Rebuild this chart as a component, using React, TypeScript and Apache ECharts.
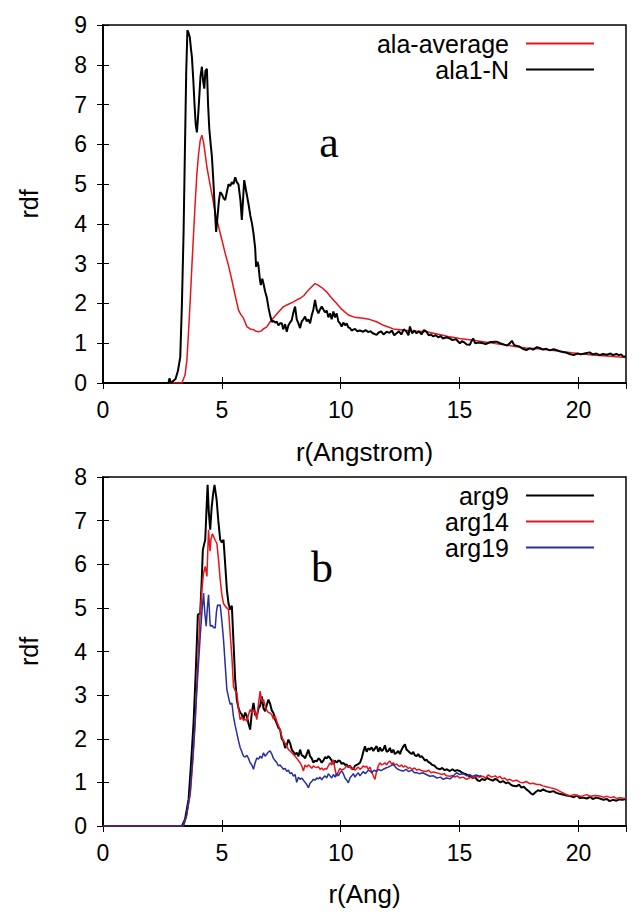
import React, { useEffect, useRef } from "react";
import * as echarts from "echarts";

// ---------- data (r in Angstrom, rdf value) ----------
const alaAverage: number[][] = [
  [0, 0], [3.32, 0], [3.45, 0.2], [3.53, 0.58], [3.6, 1.3], [3.67, 2.09], [3.74, 2.95], [3.81, 3.76], [3.88, 4.55],
  [3.95, 5.27], [4.02, 5.75], [4.09, 6.1], [4.16, 6.23], [4.23, 6.05], [4.3, 5.75], [4.37, 5.43], [4.5, 5.0],
  [4.65, 4.52], [4.75, 4.2], [4.86, 3.93], [5.0, 3.6], [5.14, 3.26], [5.28, 2.95], [5.42, 2.59], [5.56, 2.2],
  [5.7, 1.83], [5.8, 1.72], [5.91, 1.63], [6.05, 1.42], [6.19, 1.36], [6.33, 1.34], [6.44, 1.3], [6.54, 1.29],
  [6.66, 1.31], [6.75, 1.36], [6.89, 1.41], [7.03, 1.54], [7.2, 1.66], [7.4, 1.8], [7.59, 1.92], [7.8, 1.98],
  [8.01, 2.04], [8.15, 2.09], [8.3, 2.13], [8.45, 2.2], [8.57, 2.29], [8.75, 2.4], [8.92, 2.5], [9.05, 2.46],
  [9.2, 2.4], [9.41, 2.29], [9.6, 2.15], [9.83, 2.0], [10.05, 1.85], [10.32, 1.71], [10.6, 1.65], [10.95, 1.63],
  [11.2, 1.6], [11.51, 1.54], [11.8, 1.45], [12.21, 1.36], [12.6, 1.33], [13.0, 1.31], [13.3, 1.3], [13.61, 1.29],
  [14.0, 1.24], [14.3, 1.2], [14.59, 1.16], [15.0, 1.12], [15.5, 1.08], [15.99, 1.04], [16.5, 0.99], [17.0, 0.95],
  [17.39, 0.91], [17.8, 0.88], [18.3, 0.86], [18.79, 0.83], [19.3, 0.79], [19.7, 0.76], [20.19, 0.73], [20.7, 0.7],
  [21.2, 0.68], [21.6, 0.66], [22, 0.64],
];

const ala1N: number[][] = [
  [0, 0], [2.75, 0], [2.8, 0.12], [2.85, 0], [2.95, 0.05], [3.05, 0.1], [3.15, 0.3], [3.25, 0.65], [3.32, 2.0],
  [3.39, 3.8], [3.45, 6.0], [3.5, 7.8], [3.55, 8.87], [3.6, 8.8], [3.65, 8.7], [3.7, 8.4], [3.74, 8.2], [3.8, 7.6],
  [3.85, 7.0], [3.9, 6.5], [3.95, 6.3], [4.0, 6.7], [4.05, 7.2], [4.1, 7.7], [4.16, 7.95], [4.21, 7.6], [4.26, 7.4],
  [4.31, 7.85], [4.37, 7.9], [4.42, 7.0], [4.47, 6.4], [4.53, 6.0], [4.58, 5.7], [4.65, 5.0], [4.7, 4.4],
  [4.76, 3.8], [4.82, 4.2], [4.88, 4.6], [4.93, 4.8], [5.0, 4.75], [5.07, 4.65], [5.14, 4.6], [5.21, 4.8],
  [5.28, 5.0], [5.35, 4.95], [5.42, 5.05], [5.49, 5.0], [5.56, 5.17], [5.63, 5.05], [5.7, 4.99], [5.78, 4.6],
  [5.84, 4.1], [5.9, 4.7], [5.94, 5.1], [6.0, 4.9], [6.06, 4.7], [6.12, 4.5], [6.2, 4.2], [6.27, 4.0], [6.33, 3.76],
  [6.4, 3.4], [6.44, 2.92], [6.5, 3.05], [6.54, 2.95], [6.6, 2.6], [6.64, 2.46], [6.7, 2.62], [6.75, 2.5],
  [6.82, 2.3], [6.89, 2.15], [6.96, 1.9], [7.03, 1.7], [7.1, 1.54], [7.17, 1.56], [7.24, 1.52], [7.31, 1.54],
  [7.38, 1.45], [7.45, 1.5], [7.52, 1.5], [7.58, 1.35], [7.66, 1.48], [7.73, 1.29], [7.8, 1.45], [7.87, 1.52],
  [7.94, 1.58], [8.0, 1.75], [8.08, 1.92], [8.15, 1.6], [8.22, 1.5], [8.29, 1.38], [8.36, 1.55], [8.43, 1.6],
  [8.5, 1.67], [8.57, 1.55], [8.64, 1.6], [8.71, 1.5], [8.78, 1.7], [8.85, 1.85], [8.92, 2.09], [8.99, 1.85],
  [9.06, 1.75], [9.13, 1.85], [9.2, 1.92], [9.27, 1.85], [9.34, 1.78], [9.41, 1.82], [9.48, 1.65], [9.55, 1.75],
  [9.62, 1.6], [9.69, 1.8], [9.76, 1.65], [9.83, 1.75], [9.9, 1.55], [9.97, 1.5], [10.04, 1.42], [10.11, 1.52],
  [10.18, 1.45], [10.25, 1.5], [10.32, 1.4], [10.39, 1.38], [10.46, 1.32], [10.53, 1.34], [10.6, 1.36], [10.7, 1.3],
  [10.8, 1.32], [10.95, 1.29], [11.05, 1.33], [11.15, 1.28], [11.25, 1.3], [11.35, 1.25], [11.51, 1.21],
  [11.6, 1.27], [11.7, 1.3], [11.8, 1.22], [11.93, 1.29], [12.05, 1.26], [12.15, 1.32], [12.25, 1.2], [12.35, 1.25],
  [12.45, 1.3], [12.55, 1.22], [12.65, 1.35], [12.77, 1.29], [12.85, 1.2], [12.91, 1.42], [13.0, 1.25], [13.1, 1.32],
  [13.19, 1.25], [13.3, 1.3], [13.4, 1.22], [13.5, 1.33], [13.61, 1.29], [13.7, 1.2], [13.8, 1.22], [13.89, 1.17],
  [14.0, 1.2], [14.1, 1.15], [14.2, 1.18], [14.3, 1.12], [14.45, 1.15], [14.59, 1.12], [14.7, 1.08], [14.85, 1.1],
  [15.01, 1.0], [15.1, 1.05], [15.2, 1.02], [15.3, 0.97], [15.43, 0.96], [15.5, 1.05], [15.57, 1.12], [15.65, 1.0],
  [15.8, 1.02], [15.99, 1.0], [16.1, 0.98], [16.3, 1.03], [16.55, 1.04], [16.7, 1.0], [16.85, 0.97], [17.0, 0.94],
  [17.11, 1.0], [17.2, 1.06], [17.3, 0.95], [17.5, 0.92], [17.65, 0.86], [17.81, 0.83], [17.95, 0.87], [18.1, 0.84],
  [18.25, 0.9], [18.37, 0.88], [18.5, 0.84], [18.65, 0.86], [18.8, 0.82], [18.95, 0.85], [19.07, 0.83], [19.2, 0.8],
  [19.35, 0.78], [19.5, 0.76], [19.63, 0.73], [19.8, 0.7], [19.95, 0.74], [20.1, 0.72], [20.3, 0.75], [20.47, 0.77],
  [20.6, 0.72], [20.75, 0.74], [20.9, 0.7], [21.03, 0.73], [21.2, 0.71], [21.35, 0.74], [21.45, 0.7], [21.59, 0.73],
  [21.7, 0.7], [21.8, 0.72], [21.87, 0.67], [22, 0.66],
];

const arg9: number[][] = [
  [0, 0], [3.32, 0], [3.45, 0.15], [3.6, 0.61], [3.7, 1.4], [3.81, 2.37], [3.9, 3.5], [3.99, 4.84], [4.09, 4.88],
  [4.15, 5.6], [4.2, 6.33], [4.25, 6.45], [4.3, 6.56], [4.35, 7.2], [4.4, 7.82], [4.45, 7.2], [4.51, 6.79],
  [4.57, 7.3], [4.63, 7.6], [4.69, 7.82], [4.78, 7.48], [4.85, 7.0], [4.93, 6.56], [5.0, 6.5], [5.07, 6.56],
  [5.14, 6.0], [5.21, 5.42], [5.28, 5.1], [5.35, 4.96], [5.42, 5.05], [5.49, 4.2], [5.56, 3.36], [5.63, 2.9],
  [5.7, 2.7], [5.77, 2.6], [5.84, 2.56], [5.91, 2.45], [5.98, 2.6], [6.05, 2.52], [6.12, 2.35], [6.19, 2.21],
  [6.26, 2.6], [6.33, 2.82], [6.4, 2.55], [6.47, 2.52], [6.54, 2.7], [6.61, 2.75], [6.68, 2.97], [6.75, 2.7],
  [6.82, 2.63], [6.89, 2.78], [6.96, 2.9], [7.03, 2.8], [7.1, 2.65], [7.17, 2.59], [7.24, 2.44], [7.31, 2.35],
  [7.38, 2.25], [7.45, 2.21], [7.52, 2.0], [7.59, 1.95], [7.66, 1.79], [7.73, 1.85], [7.8, 1.98], [7.87, 1.9],
  [7.94, 1.75], [8.01, 1.7], [8.08, 1.64], [8.15, 1.68], [8.22, 1.6], [8.29, 1.75], [8.36, 1.62], [8.43, 1.6],
  [8.5, 1.55], [8.57, 1.65], [8.64, 1.75], [8.71, 1.6], [8.78, 1.55], [8.85, 1.45], [8.92, 1.5], [8.99, 1.48],
  [9.06, 1.55], [9.13, 1.52], [9.2, 1.45], [9.27, 1.5], [9.34, 1.58], [9.41, 1.55], [9.48, 1.6], [9.55, 1.56],
  [9.62, 1.5], [9.69, 1.42], [9.76, 1.5], [9.83, 1.45], [9.9, 1.5], [9.97, 1.49], [10.04, 1.42], [10.11, 1.45],
  [10.18, 1.4], [10.25, 1.41], [10.32, 1.35], [10.39, 1.38], [10.46, 1.32], [10.53, 1.3], [10.6, 1.38], [10.67, 1.4],
  [10.74, 1.42], [10.81, 1.45], [10.88, 1.55], [10.95, 1.7], [11.02, 1.83], [11.09, 1.7], [11.16, 1.78],
  [11.23, 1.75], [11.3, 1.8], [11.37, 1.72], [11.44, 1.78], [11.51, 1.83], [11.58, 1.7], [11.65, 1.8], [11.72, 1.72],
  [11.79, 1.75], [11.86, 1.85], [11.93, 1.7], [12.0, 1.72], [12.07, 1.79], [12.14, 1.68], [12.21, 1.75],
  [12.28, 1.65], [12.35, 1.68], [12.42, 1.72], [12.49, 1.65], [12.56, 1.75], [12.63, 1.82], [12.7, 1.87],
  [12.77, 1.75], [12.84, 1.72], [12.91, 1.68], [12.98, 1.65], [13.05, 1.7], [13.12, 1.62], [13.19, 1.6],
  [13.26, 1.65], [13.33, 1.58], [13.4, 1.6], [13.47, 1.56], [13.54, 1.5], [13.61, 1.52], [13.68, 1.47],
  [13.75, 1.45], [13.85, 1.4], [13.95, 1.38], [14.05, 1.32], [14.17, 1.3], [14.27, 1.33], [14.37, 1.28],
  [14.47, 1.3], [14.59, 1.26], [14.7, 1.3], [14.8, 1.26], [14.9, 1.28], [15.01, 1.26], [15.1, 1.22], [15.2, 1.2],
  [15.3, 1.18], [15.43, 1.14], [15.55, 1.1], [15.65, 1.12], [15.75, 1.05], [15.85, 1.03], [15.95, 1.08],
  [16.05, 1.05], [16.15, 1.1], [16.27, 1.07], [16.4, 1.04], [16.5, 1.08], [16.6, 1.05], [16.7, 1.0], [16.83, 1.03],
  [16.95, 0.98], [17.05, 1.0], [17.15, 0.95], [17.25, 0.92], [17.39, 0.91], [17.5, 0.95], [17.6, 0.88], [17.7, 0.9],
  [17.81, 0.84], [17.9, 0.8], [18.0, 0.75], [18.09, 0.72], [18.2, 0.78], [18.3, 0.82], [18.4, 0.8], [18.51, 0.84],
  [18.65, 0.8], [18.8, 0.78], [18.95, 0.8], [19.07, 0.76], [19.2, 0.74], [19.35, 0.72], [19.5, 0.7], [19.63, 0.69],
  [19.8, 0.66], [19.95, 0.7], [20.05, 0.64], [20.19, 0.65], [20.35, 0.63], [20.5, 0.67], [20.6, 0.62], [20.75, 0.65],
  [20.9, 0.63], [21.05, 0.6], [21.2, 0.62], [21.31, 0.57], [21.45, 0.6], [21.6, 0.58], [21.73, 0.61], [21.85, 0.6],
  [22, 0.62],
];

const arg14: number[][] = [
  [0, 0], [3.36, 0], [3.5, 0.2], [3.67, 0.72], [3.78, 1.5], [3.88, 2.37], [3.95, 3.3], [4.02, 4.12], [4.09, 4.9],
  [4.16, 5.42], [4.23, 5.8], [4.3, 5.95], [4.37, 5.72], [4.44, 6.79], [4.5, 6.3], [4.54, 6.56], [4.6, 6.7],
  [4.65, 6.64], [4.72, 6.55], [4.79, 6.48], [4.86, 6.1], [4.93, 5.65], [5.0, 5.3], [5.07, 5.1], [5.14, 5.04],
  [5.21, 5.0], [5.28, 4.96], [5.35, 4.4], [5.42, 3.89], [5.49, 3.2], [5.56, 3.1], [5.63, 3.05], [5.7, 2.7],
  [5.77, 2.44], [5.84, 2.5], [5.91, 2.42], [5.98, 2.45], [6.05, 2.4], [6.12, 2.55], [6.19, 2.67], [6.26, 2.6],
  [6.33, 2.67], [6.4, 2.6], [6.47, 2.44], [6.54, 2.8], [6.61, 3.09], [6.68, 2.85], [6.75, 2.9], [6.82, 2.75],
  [6.89, 2.65], [6.96, 2.6], [7.03, 2.59], [7.1, 2.55], [7.17, 2.45], [7.24, 2.52], [7.31, 2.4], [7.38, 2.3],
  [7.45, 2.21], [7.52, 2.05], [7.59, 1.95], [7.66, 1.9], [7.73, 1.83], [7.8, 1.75], [7.87, 1.72], [7.94, 1.68],
  [8.01, 1.64], [8.08, 1.6], [8.15, 1.55], [8.22, 1.5], [8.29, 1.45], [8.36, 1.38], [8.43, 1.26], [8.5, 1.4],
  [8.57, 1.35], [8.64, 1.4], [8.71, 1.37], [8.78, 1.32], [8.85, 1.38], [8.92, 1.35], [8.99, 1.34], [9.06, 1.36],
  [9.13, 1.3], [9.2, 1.33], [9.27, 1.28], [9.34, 1.32], [9.41, 1.3], [9.48, 1.38], [9.55, 1.45], [9.62, 1.4],
  [9.69, 1.52], [9.76, 1.3], [9.83, 1.14], [9.9, 1.25], [9.97, 1.32], [10.04, 1.28], [10.11, 1.3], [10.18, 1.33],
  [10.25, 1.38], [10.32, 1.35], [10.39, 1.37], [10.46, 1.3], [10.53, 1.34], [10.6, 1.28], [10.67, 1.32],
  [10.74, 1.35], [10.81, 1.3], [10.88, 1.33], [10.95, 1.38], [11.02, 1.35], [11.09, 1.37], [11.16, 1.3],
  [11.23, 1.35], [11.3, 1.25], [11.37, 1.15], [11.44, 1.07], [11.51, 1.25], [11.58, 1.38], [11.65, 1.45],
  [11.72, 1.4], [11.79, 1.42], [11.86, 1.45], [11.93, 1.4], [12.0, 1.46], [12.07, 1.49], [12.14, 1.42],
  [12.21, 1.45], [12.28, 1.4], [12.35, 1.42], [12.42, 1.38], [12.49, 1.37], [12.56, 1.4], [12.63, 1.35],
  [12.7, 1.38], [12.77, 1.36], [12.84, 1.32], [12.91, 1.34], [13.0, 1.3], [13.1, 1.33], [13.2, 1.28], [13.3, 1.3],
  [13.4, 1.27], [13.47, 1.26], [13.6, 1.25], [13.7, 1.28], [13.8, 1.22], [13.9, 1.24], [14.03, 1.22], [14.15, 1.2],
  [14.25, 1.18], [14.35, 1.2], [14.45, 1.15], [14.59, 1.14], [14.7, 1.16], [14.8, 1.12], [14.9, 1.15], [15.0, 1.1],
  [15.15, 1.12], [15.29, 1.07], [15.4, 1.1], [15.5, 1.13], [15.6, 1.1], [15.7, 1.15], [15.8, 1.12], [15.99, 1.14],
  [16.1, 1.1], [16.2, 1.17], [16.35, 1.12], [16.5, 1.15], [16.6, 1.1], [16.69, 1.14], [16.8, 1.08], [16.9, 1.1],
  [17.0, 1.05], [17.11, 1.07], [17.25, 1.03], [17.4, 1.05], [17.55, 1.0], [17.67, 0.99], [17.8, 1.02],
  [17.95, 0.97], [18.1, 0.98], [18.25, 0.95], [18.37, 0.95], [18.5, 0.92], [18.65, 0.9], [18.8, 0.88],
  [18.95, 0.86], [19.07, 0.84], [19.2, 0.8], [19.35, 0.76], [19.5, 0.72], [19.63, 0.69], [19.8, 0.72], [19.95, 0.7],
  [20.1, 0.68], [20.19, 0.69], [20.35, 0.72], [20.5, 0.68], [20.7, 0.7], [20.89, 0.69], [21.05, 0.66], [21.2, 0.68],
  [21.35, 0.65], [21.5, 0.67], [21.6, 0.63], [21.73, 0.65], [21.85, 0.64], [22, 0.63],
];

const arg19: number[][] = [
  [0, 0], [3.39, 0], [3.52, 0.25], [3.67, 0.8], [3.78, 1.6], [3.88, 2.48], [3.98, 3.4], [4.09, 4.35], [4.16, 4.9],
  [4.23, 5.34], [4.28, 4.9], [4.34, 4.58], [4.39, 5.0], [4.44, 5.3], [4.51, 4.58], [4.58, 4.6], [4.65, 4.55],
  [4.72, 4.54], [4.77, 4.9], [4.82, 5.07], [4.88, 5.05], [4.93, 5.07], [5.0, 4.7], [5.07, 4.27], [5.14, 3.7],
  [5.21, 3.13], [5.28, 2.95], [5.35, 2.79], [5.42, 2.82], [5.49, 2.5], [5.56, 2.3], [5.63, 2.13], [5.7, 1.95],
  [5.77, 1.8], [5.84, 1.7], [5.91, 1.6], [5.98, 1.58], [6.05, 1.62], [6.12, 1.55], [6.19, 1.45], [6.26, 1.4],
  [6.33, 1.3], [6.4, 1.45], [6.47, 1.56], [6.54, 1.53], [6.61, 1.6], [6.68, 1.55], [6.75, 1.68], [6.82, 1.6],
  [6.89, 1.65], [6.96, 1.7], [7.03, 1.72], [7.1, 1.65], [7.17, 1.55], [7.24, 1.5], [7.31, 1.45], [7.38, 1.38],
  [7.45, 1.4], [7.52, 1.35], [7.59, 1.3], [7.66, 1.32], [7.73, 1.25], [7.8, 1.28], [7.87, 1.2], [7.94, 1.22],
  [8.01, 1.14], [8.08, 1.18], [8.15, 1.0], [8.22, 1.12], [8.29, 1.07], [8.36, 1.1], [8.43, 1.05], [8.5, 1.0],
  [8.57, 0.95], [8.64, 0.88], [8.71, 0.98], [8.78, 1.02], [8.85, 1.07], [8.92, 1.05], [8.99, 1.1], [9.06, 1.08],
  [9.13, 1.12], [9.2, 1.06], [9.27, 1.11], [9.34, 1.15], [9.41, 1.1], [9.48, 1.2], [9.55, 1.15], [9.62, 1.1],
  [9.69, 1.18], [9.76, 1.12], [9.83, 1.2], [9.9, 1.15], [9.97, 1.22], [10.04, 1.26], [10.11, 1.2], [10.18, 1.1],
  [10.25, 1.05], [10.32, 0.99], [10.39, 1.1], [10.46, 1.15], [10.53, 1.2], [10.6, 1.12], [10.67, 1.18],
  [10.74, 1.22], [10.81, 1.15], [10.88, 1.2], [10.95, 1.25], [11.02, 1.2], [11.09, 1.23], [11.16, 1.28],
  [11.23, 1.26], [11.3, 1.22], [11.4, 1.28], [11.5, 1.25], [11.6, 1.3], [11.7, 1.27], [11.79, 1.3], [11.9, 1.33],
  [12.0, 1.35], [12.1, 1.38], [12.21, 1.41], [12.3, 1.35], [12.4, 1.3], [12.5, 1.28], [12.63, 1.26], [12.75, 1.3],
  [12.85, 1.25], [13.0, 1.28], [13.1, 1.22], [13.19, 1.22], [13.3, 1.2], [13.45, 1.22], [13.6, 1.18],
  [13.75, 1.14], [13.9, 1.15], [14.05, 1.1], [14.2, 1.12], [14.31, 1.07], [14.45, 1.1], [14.6, 1.08],
  [14.75, 1.15], [14.87, 1.22], [15.0, 1.18], [15.15, 1.2], [15.3, 1.15], [15.43, 1.18], [15.55, 1.14],
  [15.7, 1.17], [15.85, 1.14], [15.92, 1.16],
];

const xTickStep = 5;
const xMax = 22;
const yMaxTop = 9;
const yMaxBottom = 8;

const FONT = "Liberation Sans";
const BLACK = "#000000";
const RED = "#e8141c";
const BLUE = "#28309a";

export default function App() {
  const ref = useRef<HTMLDivElement>(null);

  useEffect(() => {
    if (!ref.current) return;
    const chart = echarts.init(ref.current, null, { renderer: "svg" });

    const grids = [
      { left: 103, top: 25, width: 523, height: 358 },
      { left: 103, top: 477, width: 523, height: 349 },
    ];

    const tickStyle = { inside: true, length: 6, lineStyle: { color: BLACK, width: 1 } };
    const lineStyleAxis = { show: true, lineStyle: { color: BLACK, width: 1.5 } };
    const labelStyle = { fontSize: 23, color: BLACK, fontFamily: FONT };

    const mkX = (gridIndex: number, name: string, nameGap: number) => [
      {
        gridIndex, type: "value", min: 0, max: xMax, interval: xTickStep, position: "bottom",
        axisLine: lineStyleAxis, axisTick: tickStyle,
        axisLabel: { ...labelStyle, margin: 15, showMaxLabel: false },
        splitLine: { show: false },
        name, nameLocation: "middle", nameGap,
        nameTextStyle: { fontSize: 26, color: BLACK, fontFamily: FONT },
      },
      {
        gridIndex, type: "value", min: 0, max: xMax, interval: xTickStep, position: "top",
        axisLine: lineStyleAxis, axisTick: tickStyle, axisLabel: { show: false }, splitLine: { show: false },
      },
    ];
    const mkY = (gridIndex: number, max: number) => [
      {
        gridIndex, type: "value", min: 0, max, interval: 1, position: "left",
        axisLine: lineStyleAxis, axisTick: tickStyle,
        axisLabel: { ...labelStyle, margin: 16 },
        splitLine: { show: false },
        name: "rdf", nameLocation: "middle", nameGap: 62,
        nameTextStyle: { fontSize: 25, color: BLACK, fontFamily: FONT },
      },
      {
        gridIndex, type: "value", min: 0, max, interval: 1, position: "right",
        axisLine: lineStyleAxis, axisTick: tickStyle, axisLabel: { show: false }, splitLine: { show: false },
      },
    ];

    const mkSeries = (name: string, data: number[][], color: string, width: number, g: number) => ({
      name, type: "line", data, xAxisIndex: g * 2, yAxisIndex: g * 2,
      showSymbol: false, symbol: "none", smooth: false,
      lineStyle: { color, width }, itemStyle: { color },
    });

    const mkLegend = (name: string, centerY: number) => ({
      data: [name], right: 48, top: centerY - 12, orient: "vertical", align: "right",
      icon: "rect", itemWidth: 68, itemHeight: 2, padding: 0, selectedMode: false,
      textStyle: { fontSize: 25, color: BLACK, fontFamily: FONT, lineHeight: 24, padding: [0, 12, 0, 0] },
    });

    chart.setOption({
      animation: false,
      backgroundColor: "#ffffff",
      grid: grids.map((g) => ({ ...g, show: true, borderColor: BLACK, borderWidth: 1.5, backgroundColor: "transparent" })),
      xAxis: [...mkX(0, "r(Angstrom)", 56), ...mkX(1, "r(Ang)", 55)],
      yAxis: [...mkY(0, yMaxTop), ...mkY(1, yMaxBottom)],
      legend: [
        mkLegend("ala-average", 43),
        mkLegend("ala1-N", 69),
        mkLegend("arg9", 495),
        mkLegend("arg14", 521),
        mkLegend("arg19", 547),
      ],
      series: [
        mkSeries("ala-average", alaAverage, RED, 1.5, 0),
        mkSeries("ala1-N", ala1N, BLACK, 2, 0),
        mkSeries("arg9", arg9, BLACK, 2, 1),
        mkSeries("arg14", arg14, RED, 1.5, 1),
        mkSeries("arg19", arg19, BLUE, 1.5, 1),
      ],
      graphic: [
        { type: "text", x: 329, y: 142, style: { text: "a", font: '44px "Liberation Serif"', fill: BLACK, align: "center", verticalAlign: "middle" } },
        { type: "text", x: 322, y: 567, style: { text: "b", font: '44px "Liberation Serif"', fill: BLACK, align: "center", verticalAlign: "middle" } },
      ],
    });

    return () => chart.dispose();
  }, []);

  return <div ref={ref} style={{ position: "fixed", left: 0, top: 0, width: 642, height: 919 }} />;
}
